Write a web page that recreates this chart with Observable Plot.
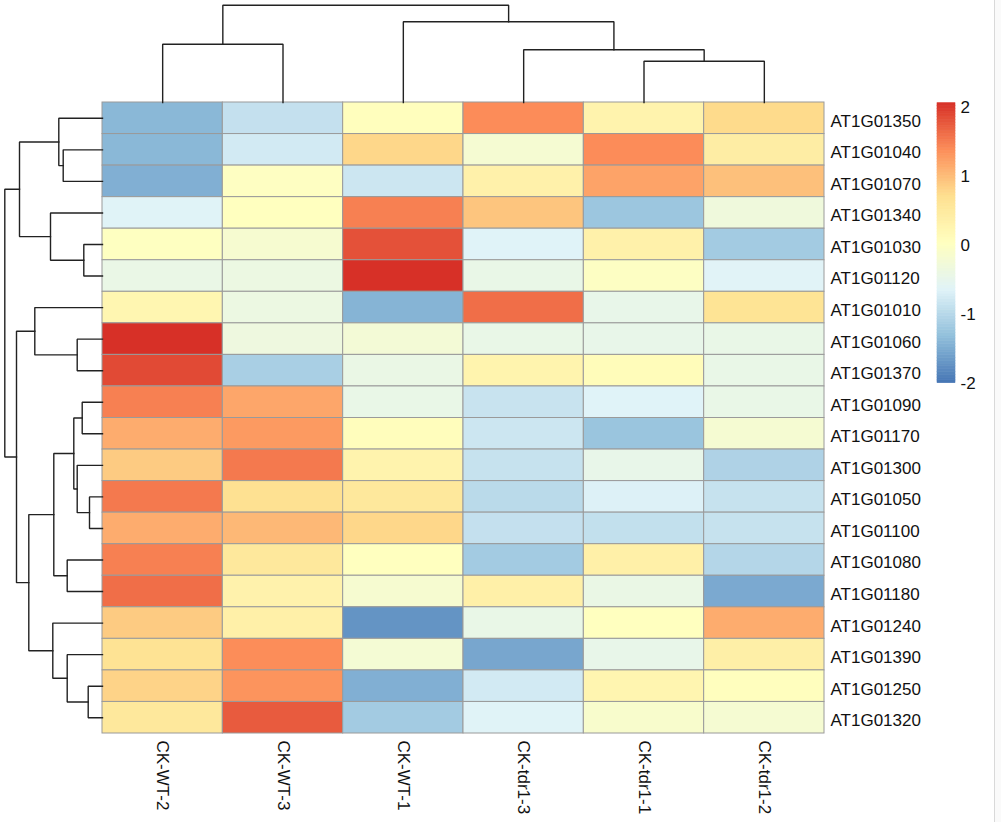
<!DOCTYPE html>
<html>
<head>
<meta charset="utf-8">
<script src="https://cdn.jsdelivr.net/npm/d3@7"></script>
<script src="https://cdn.jsdelivr.net/npm/@observablehq/plot@0.6"></script>
<style>
  body { margin: 0; background: #fff; }
  #chart { position: relative; width: 1001px; height: 822px; overflow: hidden; font-family: "Liberation Sans", Arial, sans-serif; }
  #chart svg { position: absolute; left: 0; top: 0; }
  #edge { position: absolute; left: 994px; top: 0; width: 7px; height: 822px; background: #fafafa; border-left: 1px solid #d9d9d9; }
</style>
</head>
<body>
<div id="chart"><div id="edge"></div></div>
<script>
// ---------- data ----------
const samples = ["CK-WT-2", "CK-WT-3", "CK-WT-1", "CK-tdr1-3", "CK-tdr1-1", "CK-tdr1-2"];
const genes = ["AT1G01350", "AT1G01040", "AT1G01070", "AT1G01340", "AT1G01030", "AT1G01120",
  "AT1G01010", "AT1G01060", "AT1G01370", "AT1G01090", "AT1G01170", "AT1G01300", "AT1G01050",
  "AT1G01100", "AT1G01080", "AT1G01180", "AT1G01240", "AT1G01390", "AT1G01250", "AT1G01320"];

// row-scaled (z-score) values, one array per sample, in gene order above
const zWT2   = [-1.42, -1.42, -1.50, -0.67, -0.02, -0.46, 0.20, 2.03, 1.84, 1.45, 1.10, 0.85, 1.50, 1.10, 1.45, 1.58, 0.85, 0.62, 0.78, 0.50];
const zWT3   = [-0.92, -0.80, -0.03, 0.00, -0.20, -0.42, -0.42, -0.38, -1.15, 1.15, 1.25, 1.50, 0.65, 1.00, 0.50, 0.28, 0.33, 1.35, 1.30, 1.72];
const zWT1   = [0.03, 0.75, -0.85, 1.45, 1.79, 2.03, -1.45, -0.27, -0.45, -0.47, 0.05, 0.26, 0.50, 0.75, 0.00, -0.20, -1.75, -0.25, -1.50, -1.20];
const zTdr13 = [1.36, -0.22, 0.30, 0.90, -0.68, -0.47, 1.58, -0.47, 0.25, -0.88, -0.85, -0.90, -1.00, -0.92, -1.20, 0.33, -0.47, -1.58, -0.80, -0.67];
const zTdr11 = [0.26, 1.36, 1.17, -1.26, 0.30, -0.05, -0.50, -0.50, 0.07, -0.68, -1.28, -0.50, -0.70, -0.93, 0.33, -0.45, 0.00, -0.50, 0.22, -0.15];
const zTdr12 = [0.72, 0.39, 0.94, -0.35, -1.20, -0.66, 0.60, -0.47, -0.47, -0.47, -0.22, -1.10, -0.90, -0.90, -1.05, -1.55, 1.10, 0.35, 0.02, -0.22];

// hierarchical clustering, hclust style: negative = leaf (1-based display position), positive = earlier merge
const colMergeA = [-5, -4, -1, -3, 3];
const colMergeB = [-6, 1, -2, 2, 4];
const colHeight = [4.13, 5.27, 5.83, 8.07, 9.73];

const rowMergeA = [-2, -1, -5, -4, 2, -8, -7, -10, -13, -12, 8, -15, 11, -19, -18, -17, 13, 7, 5];
const rowMergeB = [-3, 1, -6, 3, 4, -9, 6, -11, -14, 9, 10, -16, 12, -20, 14, 15, 16, 17, 18];
const rowHeight = [3.93, 4.37, 1.87, 5.20, 8.30, 2.53, 6.77, 2.03, 1.30, 2.53, 2.87, 3.53, 4.87, 1.43, 3.53, 4.97, 7.37, 8.60, 9.77];

const legendTicks = [-2, -1, 0, 1, 2];
const zLimit = 2.03;
const palette = ["#4575B4", "#91BFDB", "#E0F3F8", "#FFFFBF", "#FEE090", "#FC8D59", "#D73027"];

// ---------- layout ----------
const W = 1001, H = 822;
const hmLeft = 102, hmRight = 824, hmTop = 102, hmBottom = 733;
const font = '"Liberation Sans", Arial, sans-serif';
const series = [zWT2, zWT3, zWT1, zTdr13, zTdr11, zTdr12];
const cells = genes.flatMap((g, i) => samples.map((s, j) => ({gene: g, sample: s, z: series[j][i]})));
const colorScale = {
  type: "linear",
  domain: d3.range(palette.length).map(i => -zLimit + 2 * zLimit * i / (palette.length - 1)),
  range: palette,
  interpolate: "rgb"
};

function treeSegments(A, B, Hs) {
  const pos = [], hts = [], out = [];
  const p = k => k < 0 ? (-k - 1) : pos[k - 1];
  const h = k => k < 0 ? 0 : hts[k - 1];
  for (let m = 0; m < A.length; m++) {
    const a = A[m], b = B[m];
    pos[m] = (p(a) + p(b)) / 2;
    hts[m] = Hs[m];
    out.push({id: m, p: p(a), h: h(a)}, {id: m, p: p(a), h: Hs[m]}, {id: m, p: p(b), h: Hs[m]}, {id: m, p: p(b), h: h(b)});
  }
  return out;
}
const colSeg = treeSegments(colMergeA, colMergeB, colHeight);
const rowSeg = treeSegments(rowMergeA, rowMergeB, rowHeight);
const baseStyle = {fontFamily: font, background: "transparent", overflow: "visible", color: "#111"};
const lineStyle = {stroke: "#222", strokeWidth: 1.4, strokeLinejoin: "miter", strokeLinecap: "square"};

const chart = document.getElementById("chart");

// heatmap with labels
chart.appendChild(Plot.plot({
  width: W, height: H,
  marginLeft: hmLeft, marginRight: W - hmRight, marginTop: hmTop, marginBottom: H - hmBottom,
  style: baseStyle,
  x: {domain: samples, padding: 0, round: false, axis: null},
  y: {domain: genes, padding: 0, round: false, axis: null},
  color: colorScale,
  marks: [
    Plot.cell(cells, {x: "sample", y: "gene", fill: "z", stroke: "#9a9a9a", strokeWidth: 1}),
    Plot.text(samples, {x: d => d, frameAnchor: "bottom", dy: 7, rotate: 90, textAnchor: "start", lineAnchor: "middle", fontSize: 17, fill: "#111"}),
    Plot.text(genes, {y: d => d, frameAnchor: "right", dx: 6, dy: 3, textAnchor: "start", fontSize: 17, fill: "#111"})
  ]
}));

// column dendrogram
chart.appendChild(Plot.plot({
  width: W, height: hmTop,
  marginLeft: hmLeft, marginRight: W - hmRight, marginTop: 4.7, marginBottom: 0,
  style: baseStyle,
  x: {domain: [-0.5, samples.length - 0.5], axis: null},
  y: {domain: [0, d3.max(colHeight)], axis: null},
  marks: [Plot.line(colSeg, {x: "p", y: "h", z: "id", ...lineStyle})]
}));

// row dendrogram
chart.appendChild(Plot.plot({
  width: hmLeft, height: H,
  marginLeft: 4.3, marginRight: 0, marginTop: hmTop, marginBottom: H - hmBottom,
  style: baseStyle,
  x: {domain: [d3.max(rowHeight), 0], axis: null},
  y: {domain: [-0.5, genes.length - 0.5], reverse: true, axis: null},
  marks: [Plot.line(rowSeg, {x: "h", y: "p", z: "id", ...lineStyle})]
}));

// colour bar legend
const nSteps = 100;
const steps = d3.range(nSteps).map(i => -zLimit + 2 * zLimit * i / nSteps);
const stepH = 2 * zLimit / nSteps;
chart.appendChild(Plot.plot({
  width: W, height: H,
  marginLeft: 937, marginRight: W - 955, marginTop: 102.7, marginBottom: H - 382.7,
  style: baseStyle,
  x: {domain: [0, 1], axis: null},
  y: {domain: [-zLimit, zLimit], axis: null},
  color: colorScale,
  marks: [
    Plot.rect(steps, {x1: 0, x2: 1, y1: d => d, y2: d => d + stepH, fill: d => d + stepH / 2, stroke: d => d + stepH / 2, strokeWidth: 0.6}),
    Plot.text(legendTicks, {y: d => d, text: d => String(d), frameAnchor: "right", dx: 5, dy: 2, textAnchor: "start", fontSize: 17, fill: "#111"})
  ]
}));
</script>
</body>
</html>
